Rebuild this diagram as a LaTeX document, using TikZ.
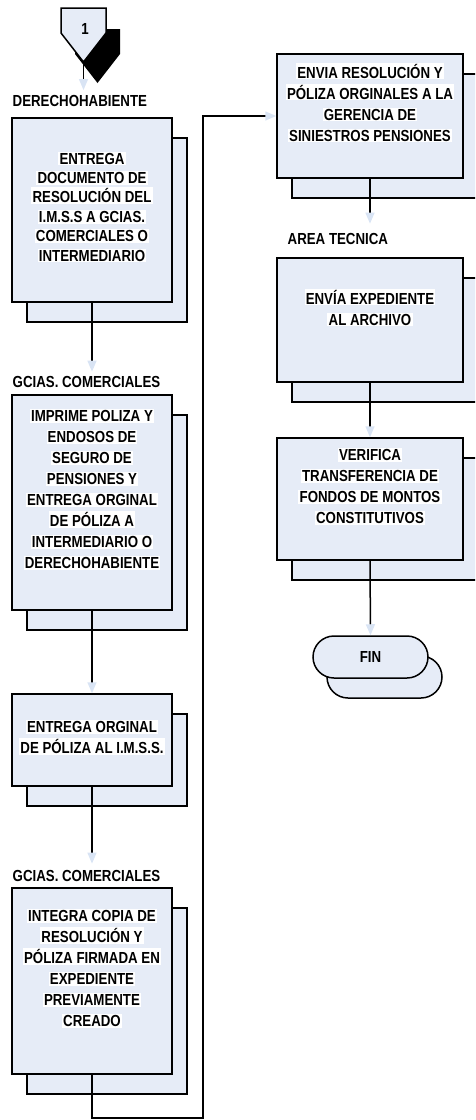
\documentclass[tikz,border=0pt]{standalone}
\usepackage{fontspec}
\setmainfont{Liberation Sans}[FakeStretch=0.83]
\usetikzlibrary{shadows,arrows.meta,shapes.misc}
\definecolor{boxfill}{HTML}{E6ECF7}
\definecolor{arrowc}{HTML}{D9E4F4}
\setlength{\fboxsep}{1.2pt}
\newcommand{\wl}[1]{\colorbox{white}{#1}}
\tikzset{
  proc/.style={draw=black, line width=1.5pt, fill=boxfill, inner sep=0pt},
  shadowed/.style={general shadow={fill=boxfill, draw=black, line width=1.5pt, shadow xshift=15pt, shadow yshift=-20pt}},
  termshadow/.style={general shadow={fill=boxfill, draw=black, line width=1.5pt, shadow xshift=14pt, shadow yshift=-20pt}},
  txt/.style={font=\bfseries\fontsize{16}{21}\selectfont, align=center, inner sep=0pt},
  lbl/.style={font=\bfseries\fontsize{16}{19}\selectfont, anchor=west, inner sep=0.5pt},
  conn/.style={line width=1.5pt, -{Triangle[width=9pt,length=11pt,color=arrowc]}}
}
\begin{document}
\begin{tikzpicture}[x=1pt,y=-1pt]
\useasboundingbox (0,0) rectangle (475,1120);
\clip (0,0) rectangle (475,1120);
% off-page connector
\fill[black] (75,29) -- (120,29) -- (120,54) -- (97.5,83) -- (75,54) -- cycle;
\draw[proc] (61,8) -- (106,8) -- (106,33) -- (83.5,62) -- (61,33) -- cycle;
\node[txt] (one) at (85,28.5) {1};
\coordinate (optip) at (83.5,62);
\coordinate (opend) at (83.5,90);
% left column
\node[lbl] (l1) at (12,101) {DERECHOHABIENTE};
\node[proc, shadowed, minimum width=160pt, minimum height=184pt] (b1) at (92,210) {};
\node[txt, font=\bfseries\fontsize{16}{19.4}\selectfont] (t1) at ([yshift=3pt]b1.center) {\wl{ENTREGA}\\\wl{DOCUMENTO DE}\\\wl{RESOLUCIÓN DEL}\\\wl{I.M.S.S A GCIAS.}\\\wl{COMERCIALES O}\\\wl{INTERMEDIARIO}};
\node[lbl] (l2) at (12,382) {GCIAS. COMERCIALES};
\node[proc, shadowed, minimum width=160pt, minimum height=215pt] (b2) at (92,502.5) {};
\node[txt] (t2) at ([yshift=13pt]b2.center) {\wl{IMPRIME POLIZA Y}\\\wl{ENDOSOS DE}\\\wl{SEGURO DE}\\\wl{PENSIONES Y}\\\wl{ENTREGA ORGINAL}\\\wl{DE PÓLIZA A}\\\wl{INTERMEDIARIO O}\\\wl{DERECHOHABIENTE}};
\node[proc, shadowed, minimum width=160pt, minimum height=92pt] (b3) at (92,740) {};
\node[txt] (t3) at ([yshift=2.5pt]b3.center) {\wl{ENTREGA ORGINAL}\\\wl{DE PÓLIZA AL I.M.S.S.}};
\node[lbl] (l4) at (12,876) {GCIAS. COMERCIALES};
\node[proc, shadowed, minimum width=160pt, minimum height=186pt] (b4) at (92,981) {};
\node[txt] (t4) at ([yshift=12.5pt]b4.center) {\wl{INTEGRA COPIA DE}\\\wl{RESOLUCIÓN Y}\\\wl{PÓLIZA FIRMADA EN}\\\wl{EXPEDIENTE}\\\wl{PREVIAMENTE}\\\wl{CREADO}};
% right column
\node[proc, shadowed, minimum width=186pt, minimum height=124pt] (b5) at (370,116) {};
\node[txt] (t5) at ([yshift=13.5pt]b5.center) {\wl{ENVIA RESOLUCIÓN Y}\\\wl{PÓLIZA ORGINALES A LA}\\\wl{GERENCIA DE}\\\wl{SINIESTROS PENSIONES}};
\node[lbl] (l6) at (287,239) {AREA TECNICA};
\node[proc, shadowed, minimum width=186pt, minimum height=124pt] (b6) at (370,320) {};
\node[txt] (t6) at ([yshift=12.5pt]b6.center) {\wl{ENVÍA EXPEDIENTE}\\\wl{AL ARCHIVO}};
\node[proc, shadowed, minimum width=186pt, minimum height=122pt] (b7) at (370,499) {};
\node[txt] (t7) at ([yshift=12.5pt]b7.center) {\wl{VERIFICA}\\\wl{TRANSFERENCIA DE}\\\wl{FONDOS DE MONTOS}\\\wl{CONSTITUTIVOS}};
\node[proc, termshadow, rounded rectangle, minimum width=115pt, minimum height=42pt, font=\bfseries\fontsize{16}{19}\selectfont] (fin) at (370.5,657) {FIN};
% connectors
\coordinate (lp1) at (92,1118);
\coordinate (lp2) at (203,1118);
\draw[conn] (optip) -- (opend);
\draw[conn] (b1.south) -- ([yshift=4pt]b1.south |- l2.north);
\draw[conn] (b2.south) -- (b3.north);
\draw[conn] (b3.south) -- ([yshift=6pt]b3.south |- l4.north);
\draw[conn] (b4.south) -- (lp1) -- (lp2) |- (b5.west);
\draw[conn] (b5.south) -- ([yshift=9pt]b5.south |- l6.north);
\draw[conn] (b6.south) -- (b7.north);
\draw[conn] (b7.south) -- (fin.north);
\end{tikzpicture}
\end{document}
